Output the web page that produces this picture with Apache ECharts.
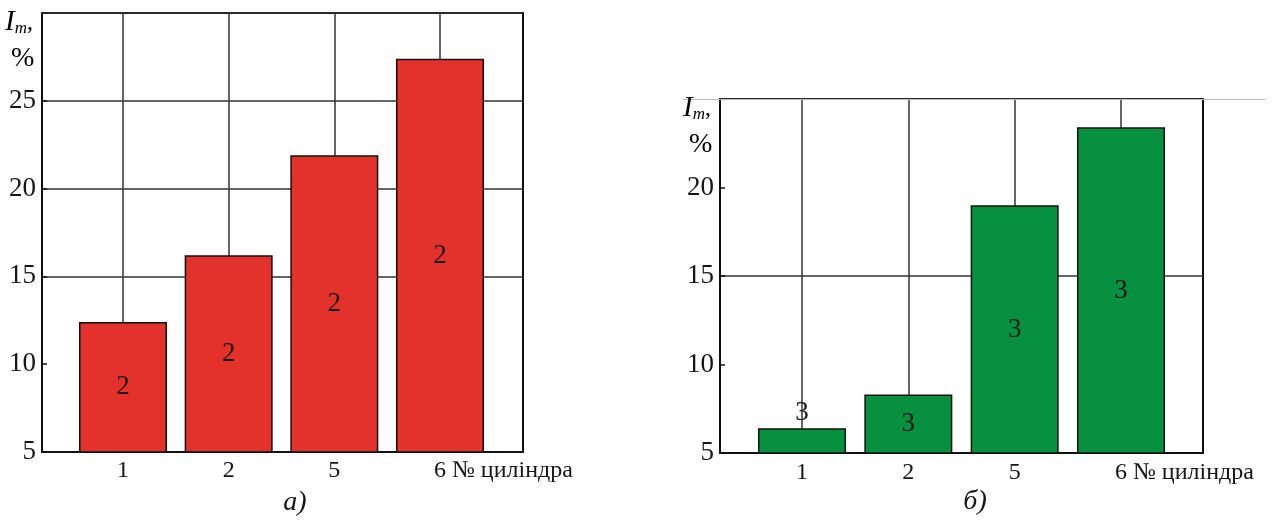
<!DOCTYPE html>
<html>
<head>
<meta charset="utf-8">
<script src="https://cdn.jsdelivr.net/npm/echarts@6/dist/echarts.min.js"></script>
<style>html,body{margin:0;padding:0;background:#fff;}#c{width:1274px;height:520px;}</style>
</head>
<body>
<div id="c"></div>
<script>
// ---- data ----
const categories = ['1', '2', '5', '6'];
const valuesA = [12.4, 16.2, 21.9, 27.4];   // chart а)
const valuesB = [6.4, 8.3, 19.0, 23.4];     // chart б)
const barLabelA = '2';
const barLabelB = '3';
const yMinA = 5, yMaxA = 30;
const yMinB = 5, yMaxB = 25;
const yStep = 5;
const xAxisName = '№ циліндра';
const captionA = 'а)';
const captionB = 'б)';

const SERIF = '"Liberation Serif", "Times New Roman", serif';
const LINE = '#333';
const NONE = 'rgba(0,0,0,0)';
const TXT = '#151515';

function boxY(gridIndex, min, max, colors) {
  return {
    gridIndex, type: 'value', min, max, interval: yStep,
    axisLine: { show: true, lineStyle: { color: '#111', width: 2 } },
    axisTick: { show: true, inside: true, length: 5, lineStyle: { color: '#111', width: 1.5 } },
    axisLabel: { showMaxLabel: false, color: TXT, fontFamily: SERIF, fontSize: 27, margin: 6 },
    splitLine: { show: true, lineStyle: { color: colors, width: 1.5 } }
  };
}
function innerX(gridIndex, margin) {
  return {
    gridIndex, type: 'category', data: categories, boundaryGap: false,
    axisLine: { show: false }, axisTick: { show: false },
    axisLabel: { color: TXT, fontFamily: SERIF, fontSize: 24, margin },
    splitLine: { show: true, lineStyle: { color: LINE, width: 1.5 } },
    name: '{n|' + xAxisName + '}', nameLocation: 'end', nameGap: 10,
    nameTextStyle: { rich: { n: { color: TXT, fontFamily: SERIF, fontSize: 24, padding: [margin * 2 + 24, 0, 0, 0] } } }
  };
}
function hiddenY(gridIndex, min, max) {
  return { gridIndex, type: 'value', min, max, show: false };
}
function boxX(gridIndex) {
  return {
    gridIndex, type: 'value', min: 0, max: 1,
    axisLine: { show: true, lineStyle: { color: '#111', width: 2 } },
    axisTick: { show: false }, axisLabel: { show: false }, splitLine: { show: false }
  };
}
function barSeries(xi, yi, values, color, lbl, topFirst) {
  return {
    type: 'bar', xAxisIndex: xi, yAxisIndex: yi, barWidth: 88,
    itemStyle: { color, borderColor: '#111', borderWidth: 1.5 },
    label: { show: true, position: 'inside', formatter: lbl, color: '#1a1a1a', fontFamily: SERIF, fontSize: 27 },
    data: values.map((v, i) => (topFirst && i === 0) ? { value: v, label: { position: 'top', distance: 2 } } : v)
  };
}

const labelRich = {
  i: { fontFamily: SERIF, fontStyle: 'italic', fontSize: 29, color: TXT },
  m: { fontFamily: SERIF, fontStyle: 'italic', fontSize: 17, color: TXT, padding: [12, 0, 0, 0] },
  c: { fontFamily: SERIF, fontSize: 24, color: TXT },
  p: { fontFamily: SERIF, fontSize: 28, color: TXT, padding: [8, 0, 0, 6] }
};

const chart = echarts.init(document.getElementById('c'));
chart.setOption({
  animation: false,
  backgroundColor: '#fff',
  grid: [
    { left: 42, top: 13, width: 481, height: 439, show: true, borderColor: '#111', borderWidth: 2, backgroundColor: NONE },
    { left: 123, top: 13, width: 317, height: 439 },
    { left: 720, top: 99, width: 483, height: 354, show: true, borderColor: '#111', borderWidth: 2, backgroundColor: NONE },
    { left: 802, top: 99, width: 319, height: 354 },
    { left: 683, top: 98, width: 582, height: 1 }
  ],
  xAxis: [
    boxX(0),
    innerX(1, 7),
    boxX(2),
    innerX(3, 8),
    { gridIndex: 4, type: 'value', min: 0, max: 1, position: 'top', axisLine: { show: true, lineStyle: { color: '#bbb', width: 1 } }, axisTick: { show: false }, axisLabel: { show: false }, splitLine: { show: false } }
  ],
  yAxis: [
    boxY(0, yMinA, yMaxA, [LINE, NONE, LINE, LINE, LINE, LINE]),
    hiddenY(1, yMinA, yMaxA),
    boxY(2, yMinB, yMaxB, [LINE, NONE, LINE, NONE, LINE]),
    hiddenY(3, yMinB, yMaxB),
    { gridIndex: 4, type: 'value', show: false }
  ],
  series: [
    barSeries(1, 1, valuesA, '#e3312b', barLabelA, false),
    barSeries(3, 3, valuesB, '#07903f', barLabelB, true)
  ],
  graphic: [
    { type: 'text', left: 5, top: 8, z: 10, style: { text: '{i|I}{m|m}{c|,}\n{p|%}', rich: labelRich } },
    { type: 'text', left: 683, top: 94, z: 10, style: { text: '{i|I}{m|m}{c|,}\n{p|%}', rich: labelRich } },
    { type: 'text', x: 295, y: 503, z: 10, style: { text: captionA, align: 'center', verticalAlign: 'middle', font: 'italic 28px ' + SERIF, fill: TXT } },
    { type: 'text', x: 975, y: 502, z: 10, style: { text: captionB, align: 'center', verticalAlign: 'middle', font: 'italic 28px ' + SERIF, fill: TXT } }
  ]
});
</script>
</body>
</html>
